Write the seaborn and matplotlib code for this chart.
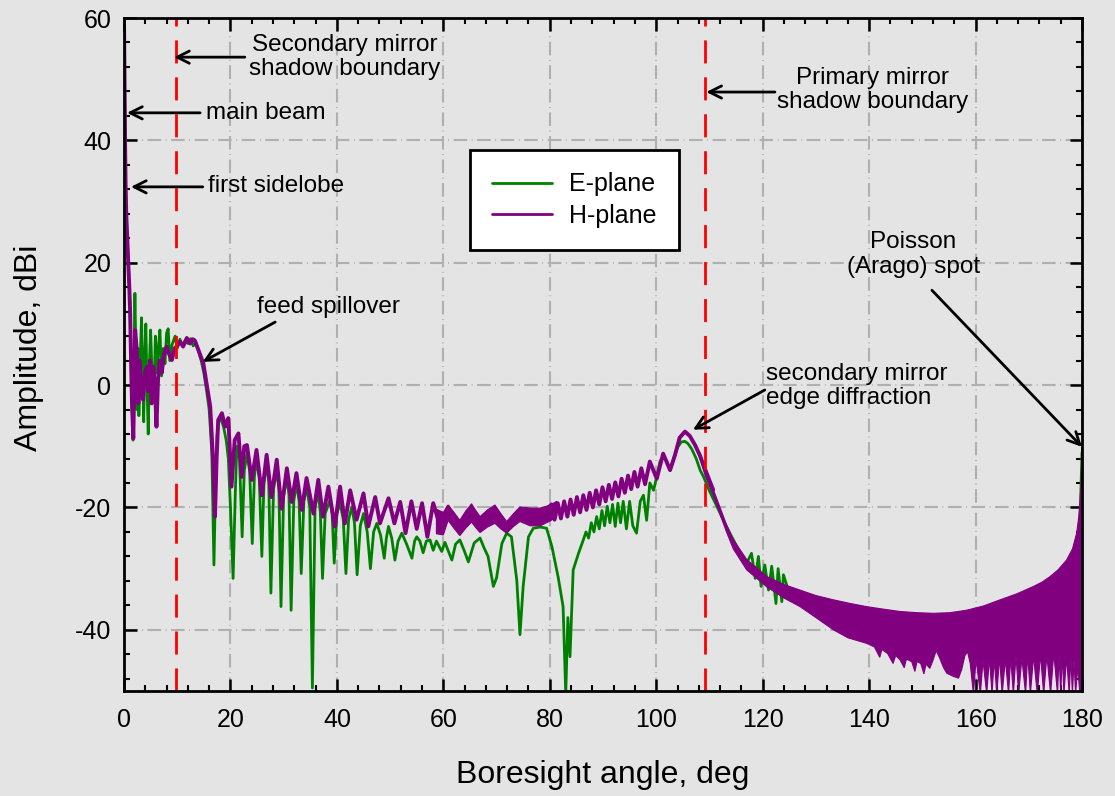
import numpy as np
import matplotlib
matplotlib.use("Agg")
import matplotlib.pyplot as plt
import seaborn as sns
from matplotlib.lines import Line2D
from matplotlib.ticker import MultipleLocator

# ---------------- data ----------------
e_angle = [0, 0.06, 0.12, 0.2, 0.3, 0.42, 0.6, 0.8, 1.0, 1.15,
           1.3, 1.5, 1.7, 1.85, 2.05, 2.2, 2.4, 2.6, 2.8, 3.0, 3.3, 3.5, 3.7, 3.9, 4.1, 4.3, 4.55, 4.75,
           5.0, 5.3, 5.6, 5.9, 6.2, 6.5, 6.75, 7.05, 7.4, 7.7, 8.0, 8.3, 8.6, 9.0, 9.6, 10.0, 10.5, 11.0,
           11.5, 12.0, 12.5, 13.0, 13.5, 14.0, 14.5, 15.0, 15.5, 16.0, 16.5, 16.9, 17.2, 17.5, 17.8, 18.2,
           18.7, 19.2, 19.6, 20.0, 20.5, 20.9, 21.2, 21.7, 22.2, 22.6, 23.1, 23.6, 24.1, 24.5, 24.9, 25.4,
           25.9, 26.3, 26.8, 27.2, 27.6, 28.1, 28.7, 29.1, 29.5, 30.0, 30.6, 31.0, 31.4, 31.9, 32.4, 32.9,
           33.3, 33.8, 34.3, 34.9, 35.4, 35.9, 36.5, 36.9, 37.3, 37.8, 38.7, 39.1, 39.5, 40.0, 40.6, 41.2,
           41.7, 42.2, 42.8, 43.3, 43.8, 44.4, 45.0, 45.7, 46.3, 46.9, 47.5, 48.2, 48.9, 49.3, 49.7, 50.3,
           50.9, 51.5, 52.2, 53.1, 54.1, 54.6, 55.0, 55.6, 56.2, 56.8, 57.5, 58.1, 58.7, 59.7, 60.3, 61.6,
           62.3, 63.1, 63.9, 64.7, 65.8, 66.9, 67.6, 68.4, 69.4, 70.0, 71.0, 71.9, 72.8, 73.8, 74.4, 75.0,
           76.0, 76.9, 78.2, 79.4,
           80.4, 81.6, 82.5, 83.0, 83.4, 83.8, 84.4, 85.4, 86.3, 86.8, 87.3, 87.8, 88.3, 88.8, 89.3, 89.8,
           90.3, 90.8, 91.3, 91.8, 92.3, 92.8, 93.3, 93.8, 94.4, 95.0, 95.6, 96.3, 97.0, 97.6, 98.2, 98.8,
           99.5, 100.1, 100.7, 101.3, 102.0, 102.6, 103.3, 104.0, 104.7, 105.4, 106.0, 106.7, 107.5, 108.3,
           108.9, 110.0, 111.5, 113.0, 114.5, 116.0, 117.0, 117.9, 118.6, 119.2, 119.7, 120.4, 121.1, 121.7,
           122.5, 122.9, 123.6, 123.9, 125.0, 130.0, 135.0, 140.0, 145.0, 150.0, 155.0, 160.0, 165.0, 170.0,
           175.0, 178.0, 179.3, 179.7, 180.0]
e_value = [60, 54, 47, 40, 33, 28, 24, 20, 16, 12,
           6, -3, -9, 2, 15, 7, -4, 6, -5, 3, 11, 2, -6, 5, 10, 1, -8, 3,
           9, 1, -2, 8, 2, 6.5, 9, 1.5, 6, 3.5, 8.5, 9.2, 4, 6.5, 8.0, 6.0, 7.5, 6.5,
           7.3, 6.8, 7.6, 6.4, 7.0, 5.5, 4.0, 2.0, -0.8, -4, -11, -29.4, -16, -8, -6, -5.5,
           -6.8, -9, -12, -20, -31.6, -18, -10, -12, -24.8, -14, -11.2, -14, -25.9, -15, -12.2, -15,
           -28.0, -16, -12.7, -16, -34.0, -17, -13.9, -17, -36.2, -18, -15.2, -18, -36.8, -19, -16.0, -19,
           -30.8, -19, -16.6, -20, -49.5, -20, -17.4, -21, -31.6, -21, -18.8, -21, -29.1, -21, -19.3, -22,
           -30.8, -22, -19.9, -22.5, -31.0, -23, -21.0, -24, -30.0, -24, -22.6, -24.5, -28.3, -25, -23.1, -25,
           -28.6, -25.5, -24.2, -26, -28.3, -25.5, -24.8, -25.5, -27.4, -25.5, -25.3, -27.0, -25.5, -27.2, -25.7, -28.6,
           -26.0, -25.3, -27.0, -28.9, -25.8, -25.0, -26.5, -28.0, -32.9, -31.5, -25.9, -24.2, -24.8, -31.9, -40.8, -32.9,
           -24.8, -23.4, -23.2, -23.4,
           -26.4, -31.5, -36.2, -50.5, -38, -44.4, -30.2, -27.5, -25.3, -24, -25, -22.5, -24, -21.5, -23.5, -20.5,
           -23, -19.8, -22.5, -19.5, -23.1, -19.3, -22.5, -19, -23.5, -19, -23, -24.2, -19, -18, -22.1, -16.0,
           -17.2, -15.0, -12.5, -11.7, -12.5, -13.9, -12, -10.2, -9.3, -9.2, -9.6, -10.5, -12, -14,
           -15.0, -17.3, -20, -22.8, -25.3, -27.8, -29.1, -27.5, -31.6, -28.0, -32.9, -29.4, -33.5, -29.6,
           -35.7, -30.0, -35.4, -31.0, -34, -36, -38, -39.5, -40.5, -41.5, -42, -41, -39.5, -38,
           -36, -33, -30, -20, -11]

h_angle = [0, 0.06, 0.12, 0.2, 0.3, 0.42, 0.6, 0.8, 1.0, 1.15,
           1.3, 1.5, 1.75, 1.95, 2.1, 2.4, 2.7, 2.9, 3.2, 3.6, 3.9, 4.3, 4.6, 4.9, 5.2, 5.5, 5.8, 6.1,
           6.4, 6.7, 7.1, 7.5, 8.0, 8.5, 9.0, 9.5, 9.9, 10.5, 11.1, 11.8, 12.4, 12.9, 13.3, 14.0, 14.5,
           14.9, 15.5, 16.2, 16.8, 17.1, 17.4, 17.7, 18.4, 19.0, 19.6, 20.2, 20.8, 21.5, 22.1, 22.6, 23.1,
           24.0, 24.9, 25.9, 26.8, 27.7, 28.7, 29.6, 30.6, 31.5, 32.4, 33.4, 34.3, 35.6, 36.5, 37.4, 38.4,
           39.6, 40.6, 41.5, 42.5, 43.7, 45.0, 45.9, 47.2, 48.1, 49.7, 50.8, 51.9, 52.9, 54.0, 55.0, 56.0,
           57.0, 58.1, 59.4, 60.9, 62.0, 63.1, 64.2, 65.3, 66.9, 68.5, 69.7, 71.9, 73.5, 74.4, 76.3, 78.2,
           80.3, 80.9, 81.5, 82.1, 82.7, 83.3, 83.9, 84.5, 85.1, 85.7, 86.3, 86.9, 87.5, 88.1, 88.7, 89.3,
           89.9, 90.5, 91.1, 91.7, 92.3, 92.9, 93.5, 94.1, 94.7, 95.3, 95.9, 96.5, 97.2, 97.9, 98.8, 100.1,
           101.3, 102.6, 103.5, 104.4, 105.4, 106.3, 107.3, 108.2, 109.2, 110.7]
h_value = [60, 54, 47, 40, 33, 28, 24, 20, 16, 12,
           5, -3, -8.7, 2, 9, 5.7, -3, 4, -1, -2.4, 2, 3, -1, 4, -3, 3, 0, -6.8,
           1, 4, 2, 5, 6.3, 5.0, 4.1, 6.0, 6.3, 7.1, 6.3, 7.7, 6.8, 7.5, 7.3, 5.7, 4.5,
           3.6, 0.3, -3.5, -13.4, -21.5, -12, -5.7, -4.6, -6.8, -5.4, -16.6, -9, -7.9, -15.0, -10, -9.8,
           -15.5, -10.6, -18.0, -11.4, -18.3, -12.2, -20.2, -13.6, -19.1, -14.4, -20.4, -15.2, -21.0, -15.5, -21.5, -16.6,
           -23.1, -16.6, -22.6, -17.2, -22.0, -17.7, -23.1, -18.3, -22.6, -18.5, -22.6, -19.1, -24.2, -19.0, -23.5, -19.3,
           -24.8, -19.3, -23.1, -19.9, -22.0, -23.5, -21.5, -20.5, -23.0, -21.5, -21.0, -23.4, -21.5, -21.0, -21.6, -21.6,
           -19.5, -22.0, -19.3, -21.8, -19.0, -21.5, -18.7, -21.2, -18.3, -20.8, -18.0, -20.4, -17.6, -20.0, -17.2, -19.5,
           -16.7, -19.0, -16.3, -18.6, -15.9, -18.2, -15.3, -17.6, -14.8, -17.0, -14.2, -16.6, -13.6, -16.2, -12.5, -15.3,
           -11.2, -13.9, -11.5, -8.6, -7.6, -8.3, -9.8, -11.5, -13.8, -17.1]

# H-plane fast-ripple band, 59-81 deg (upper / lower edge)
h_mid_band_angle = [58.7, 60.0, 60.9, 62.0, 63.1, 64.2, 65.3, 66.1, 66.9, 68.3, 69.7, 70.8, 71.9, 73.2,
                    74.4, 76.3, 78.2, 80.1, 81.3]
h_mid_band_upper = [-20.3, -20.8, -19.6, -20.8, -22.1, -20.6, -19.4, -20.5, -21.5, -20.4, -19.6, -21.0,
                    -22.3, -21.0, -19.9, -20.1, -20.1, -19.6, -19.0]
h_mid_band_lower = [-24.3, -24.5, -22.1, -23.4, -24.6, -23.4, -22.4, -23.3, -24.1, -23.2, -22.6, -23.5,
                    -24.2, -23.1, -22.3, -23.0, -23.0, -22.2, -21.5]

# H-plane dense band 108-180 deg: upper edge
h_band_up_angle = [108.2, 109.2, 110.7, 113.2, 114.5, 117.0, 120.8, 124.0, 127.0, 130.0, 133.3, 136.5,
                   139.5, 142.5, 145.8, 149.0, 152.1, 155.2, 158.3, 161.5, 164.6, 167.8, 170.9, 172.5,
                   174.0, 175.5, 177.1, 178.2, 179.0, 179.4, 179.6, 179.8, 179.9, 180.0]
h_band_up_value = [-11.0, -13.6, -17.0, -22.8, -25.3, -28.5, -31.3, -32.6, -33.5, -34.4, -35.1, -35.7,
                   -36.2, -36.6, -37.0, -37.2, -37.3, -37.2, -36.8, -36.1, -35.1, -34.1, -32.9, -32.2,
                   -31.3, -30.2, -28.6, -26.8, -24.2, -21.5, -19.3, -16.5, -14.0, -10.2]
# H-plane dense band 108-180 deg: lower edge (with the deep nulls)
h_band_low_angle = [108.2, 109.2, 110.7, 113.2, 114.5, 117.0, 120.8, 124.0, 127.0, 130.0, 133.3, 136.0,
                    139.5, 141.0, 142.0, 142.4, 143.5, 144.5, 145.0, 145.8, 146.6, 147.0, 148.0, 148.6,
                    149.0, 149.7, 150.3, 150.7, 151.4, 152.0, 152.6, 153.2, 154.0, 154.6, 155.8, 156.8,
                    157.4, 158.0, 158.5, 159.0, 159.6, 160.1, 160.9, 161.4, 162.1, 162.6, 163.1, 163.5,
                    164.0, 164.5, 165.0, 165.6, 166.2, 166.6, 167.1, 167.6, 168.1, 168.7, 169.4, 169.8,
                    170.3, 170.9, 171.6, 172.2, 172.8, 173.4, 174.1, 174.7, 175.4, 175.7, 176.0, 176.3,
                    176.6, 177.1, 177.6, 177.9, 178.2, 178.5, 178.8, 179.2, 179.6, 180.0]
h_band_low_value = [-12.0, -14.8, -18.0, -24.0, -26.8, -30.2, -33.0, -34.8, -36.2, -38.0, -40.0, -41.3,
                    -42.2, -42.8, -44.5, -43.2, -43.9, -45.5, -44.2, -44.9, -46.2, -44.8, -45.2, -46.8,
                    -45.2, -45.5, -47.2, -45.6, -46.3, -45.0, -43.4, -44.5, -46.2, -47.1, -47.6, -47.9,
                    -46.5, -44.2, -43.6, -45.5, -50.5, -44.8, -50.5, -45.0, -50.5, -44.6, -50.5, -44.8,
                    -50.5, -44.5, -50.5, -44.8, -50.5, -44.5, -50.5, -44.2, -50.5, -44.6, -50.5, -44.0,
                    -50.5, -44.3, -50.5, -44.0, -50.5, -44.2, -50.5, -43.8, -50.5, -44.0, -50.5, -44.0,
                    -50.5, -44.5, -50.5, -44.5, -50.5, -45.0, -50.5, -46.0, -50.5, -50.5]

shadow_boundaries = [9.77, 109.2]
x_ticks = [0, 20, 40, 60, 80, 100, 120, 140, 160, 180]
y_ticks = [-40, -20, 0, 20, 40, 60]
series_labels = ["E-plane", "H-plane"]

# ---------------- styling ----------------
GREEN = "#008000"
PURPLE = "#800080"
BG = "#e4e4e4"

sns.set_theme(style="ticks")
plt.rcParams["font.family"] = ["Liberation Sans", "DejaVu Sans"]
plt.rcParams["axes.unicode_minus"] = False
plt.rcParams["text.color"] = "black"
plt.rcParams["axes.labelcolor"] = "black"
plt.rcParams["xtick.color"] = "black"
plt.rcParams["ytick.color"] = "black"

fig = plt.figure(figsize=(11.15, 7.96), dpi=100)
fig.patch.set_facecolor(BG)
ax = fig.add_axes([124 / 1115, 1 - 691 / 796, (1082 - 124) / 1115, (691 - 18) / 796])
ax.set_facecolor(BG)

ax.set_xlim(0, 180)
ax.set_ylim(-50, 60)

ax.grid(True, which="major", color="#b0b0b0", linestyle=(0, (6.5, 2.2, 0.4, 2.2)), lw=1.5, zorder=0)
ax.set_axisbelow(True)

sns.lineplot(x=e_angle, y=e_value, color=GREEN, lw=2.0, sort=False, estimator=None, ax=ax, zorder=2)
sns.lineplot(x=h_angle, y=h_value, color=PURPLE, lw=2.8, sort=False, estimator=None, ax=ax, zorder=3)
ax.fill(np.concatenate([h_mid_band_angle, h_mid_band_angle[::-1]]),
        np.concatenate([h_mid_band_upper, h_mid_band_lower[::-1]]),
        color=PURPLE, lw=0.8, ec=PURPLE, zorder=3)
ax.fill(np.concatenate([h_band_up_angle, h_band_low_angle[::-1]]),
        np.concatenate([h_band_up_value, h_band_low_value[::-1]]),
        color=PURPLE, lw=0.8, ec=PURPLE, zorder=3)

for xb in shadow_boundaries:
    ax.axvline(xb, color="red", lw=2, linestyle=(0, (8.3, 5)), zorder=4)

ax.set_xticks(x_ticks)
ax.set_yticks(y_ticks)
ax.xaxis.set_minor_locator(MultipleLocator(4))
ax.yaxis.set_minor_locator(MultipleLocator(4))
ax.tick_params(which="both", direction="in", top=True, right=True, color="black")
ax.tick_params(which="major", length=9, width=1.8, labelsize=18)
ax.tick_params(axis="x", which="major", pad=12)
ax.tick_params(axis="y", which="major", pad=9)
ax.tick_params(which="minor", length=4.5, width=1.5)
for s in ax.spines.values():
    s.set_linewidth(2)
    s.set_color("black")
    s.set_zorder(6)

ax.set_xlabel("Boresight angle, deg", fontsize=23)
ax.set_ylabel("Amplitude, dBi", fontsize=23)
ax.xaxis.set_label_coords(0.5, -0.103)
ax.yaxis.set_label_coords(-0.083, 0.51)

handles = [Line2D([0], [0], color=GREEN, lw=2), Line2D([0], [0], color=PURPLE, lw=2)]
leg = ax.legend(handles, series_labels, loc="upper left", bbox_to_anchor=(0.361, 0.804),
                frameon=True, fancybox=False, edgecolor="black", facecolor="white", framealpha=1,
                fontsize=18, handlelength=2.4, handletextpad=0.65, labelspacing=0.3,
                borderpad=0.9, borderaxespad=0)
leg.get_frame().set_linewidth(2)
leg.set_zorder(7)

arrow = dict(arrowstyle="->", lw=2, color="black", mutation_scale=22, shrinkA=0, shrinkB=0)
TXT = 17.5

ax.text(41.5, 53.6, "Secondary mirror\nshadow boundary", fontsize=TXT, ha="center", va="center",
        linespacing=1.15, zorder=8)
ax.annotate("", xy=(9.4, 53.6), xytext=(22.7, 53.6), arrowprops=arrow, zorder=8)

ax.text(15.4, 44.5, "main beam", fontsize=TXT, ha="left", va="center", zorder=8)
ax.annotate("", xy=(0.56, 44.5), xytext=(14.3, 44.5), arrowprops=arrow, zorder=8)

ax.text(15.8, 32.5, "first sidelobe", fontsize=TXT, ha="left", va="center", zorder=8)
ax.annotate("", xy=(1.3, 32.4), xytext=(14.8, 32.4), arrowprops=arrow, zorder=8)

ax.text(38.5, 12.8, "feed spillover", fontsize=TXT, ha="center", va="center", zorder=8)
ax.annotate("", xy=(14.8, 3.8), xytext=(28.4, 10.3), arrowprops=arrow, zorder=8)

ax.text(140.6, 48.2, "Primary mirror\nshadow boundary", fontsize=TXT, ha="center", va="center",
        linespacing=1.15, zorder=8)
ax.annotate("", xy=(109.4, 47.9), xytext=(122.3, 47.9), arrowprops=arrow, zorder=8)

ax.text(120.6, -0.15, "secondary mirror\nedge diffraction", fontsize=TXT, ha="left", va="center",
        linespacing=1.15, zorder=8)
ax.annotate("", xy=(106.9, -7.3), xytext=(120.4, -0.8), arrowprops=arrow, zorder=8)

ax.text(148.3, 21.3, "Poisson\n(Arago) spot", fontsize=TXT, ha="center", va="center",
        linespacing=1.15, zorder=8)
ax.annotate("", xy=(180, -10.1), xytext=(151.8, 15.5), arrowprops=arrow, zorder=8)

fig.savefig("out.png", dpi=100, facecolor=BG)
